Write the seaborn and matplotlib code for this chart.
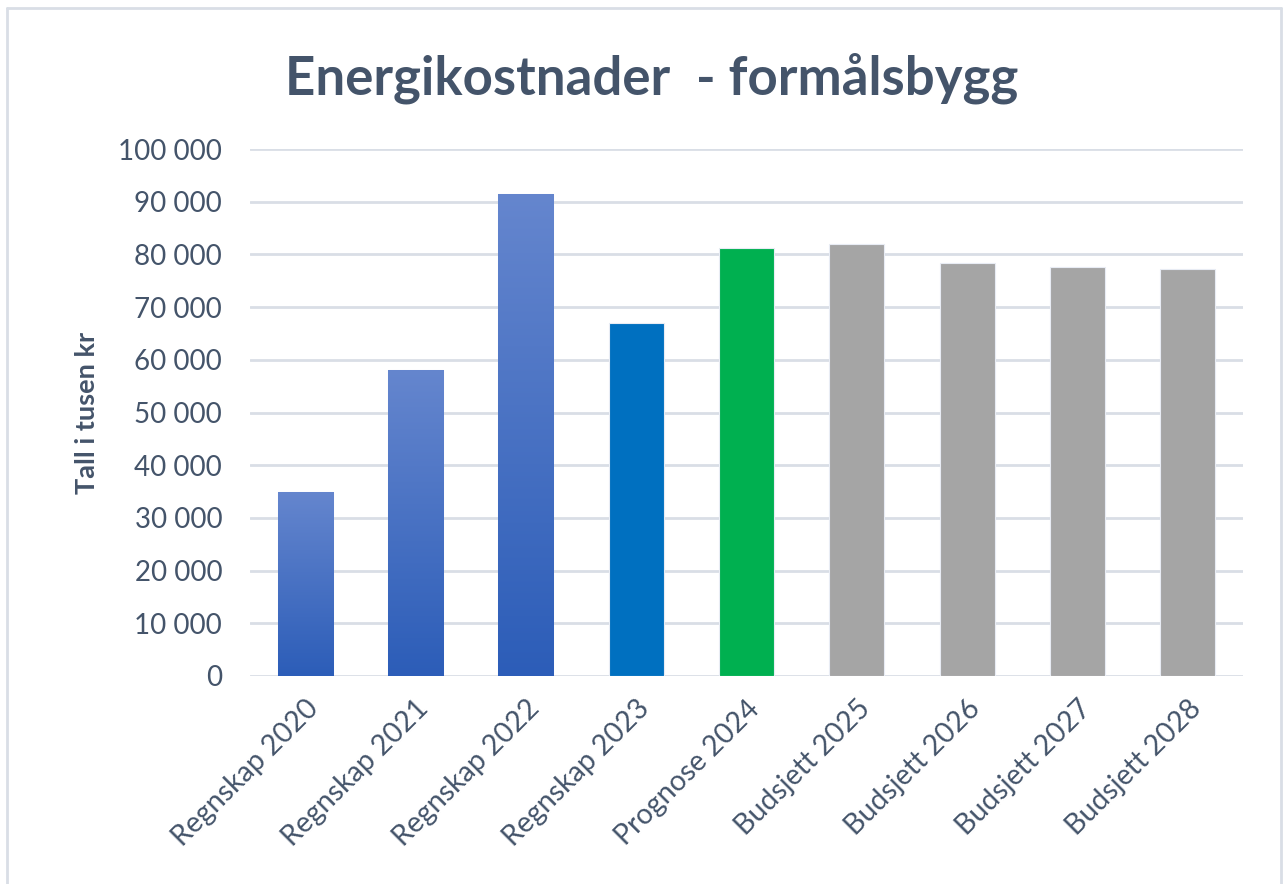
import numpy as np
import pandas as pd
import matplotlib.pyplot as plt
import seaborn as sns
from matplotlib.colors import LinearSegmentedColormap
from matplotlib.ticker import FuncFormatter
from matplotlib.lines import Line2D

# data (tall i tusen kr)
categories = ["Regnskap 2020", "Regnskap 2021", "Regnskap 2022", "Regnskap 2023",
              "Prognose 2024", "Budsjett 2025", "Budsjett 2026", "Budsjett 2027",
              "Budsjett 2028"]
values = [35000, 58100, 91500, 66900, 81300, 81900, 78300, 77600, 77300]
bar_colors = ["#4A72C8", "#4A72C8", "#4A72C8", "#0070C0", "#00B050",
              "#A5A5A5", "#A5A5A5", "#A5A5A5", "#A5A5A5"]
gradient_bars = [0, 1, 2]

df = pd.DataFrame({"kategori": categories, "verdi": values})

sns.set_style("white")
plt.rcParams["font.family"] = ["Lato", "DejaVu Sans"]
text_col = "#44546A"

fig = plt.figure(figsize=(12.88, 8.84), dpi=100)
ax = fig.add_axes([250 / 1288, 1 - 676 / 884, 993 / 1288, 527 / 884])

sns.barplot(data=df, x="kategori", y="verdi", hue="kategori", palette=bar_colors,
            legend=False, width=0.5, saturation=1, ax=ax, edgecolor="#E8ECF4",
            linewidth=0.8, zorder=3)

# top-to-bottom gradient on the "Regnskap" bars
grad = LinearSegmentedColormap.from_list("blaa", ["#2C5DB8", "#6586CE"])
for i in gradient_bars:
    bar = ax.patches[i]
    x0, w, h = bar.get_x(), bar.get_width(), bar.get_height()
    img = ax.imshow(np.linspace(0, 1, 256).reshape(-1, 1), cmap=grad, origin="lower",
                    extent=[x0, x0 + w, 0, h], aspect="auto", zorder=4)
    img.set_clip_path(bar)

ax.set_xlim(-0.5, len(categories) - 0.5)
ax.set_ylim(0, 100000)
ax.set_yticks(np.arange(0, 100001, 10000))
ax.yaxis.set_major_formatter(FuncFormatter(lambda v, p: f"{int(v):,}".replace(",", " ")))
ax.grid(axis="y", color="#D9DEE6", linewidth=2, zorder=0)
ax.set_axisbelow(True)
for s in ax.spines.values():
    s.set_visible(False)

ax.tick_params(axis="y", length=0, pad=20, labelsize=20, labelcolor=text_col)
ax.tick_params(axis="x", length=0, pad=14, labelsize=20.5, labelcolor=text_col)
plt.setp(ax.get_xticklabels(), rotation=45, ha="right", rotation_mode="anchor")

ax.set_xlabel("")
ax.set_ylabel("Tall i tusen kr", fontsize=19.5, fontweight="bold", color=text_col,
              labelpad=14)

fig.text(652 / 1288, 1 - 78 / 884, "Energikostnader  - formålsbygg", ha="center",
         va="center", fontsize=38, fontweight="bold", color=text_col)

# light frame around the chart area
frame_col = "#D9DEE6"
fig.add_artist(Line2D([7 / 1288, 1281 / 1288], [1 - 8 / 884, 1 - 8 / 884],
                      transform=fig.transFigure, color=frame_col, linewidth=2))
fig.add_artist(Line2D([7 / 1288, 7 / 1288], [0, 1 - 8 / 884],
                      transform=fig.transFigure, color=frame_col, linewidth=2))
fig.add_artist(Line2D([1281 / 1288, 1281 / 1288], [0, 1 - 8 / 884],
                      transform=fig.transFigure, color=frame_col, linewidth=2))

fig.savefig("out.png", dpi=100)
